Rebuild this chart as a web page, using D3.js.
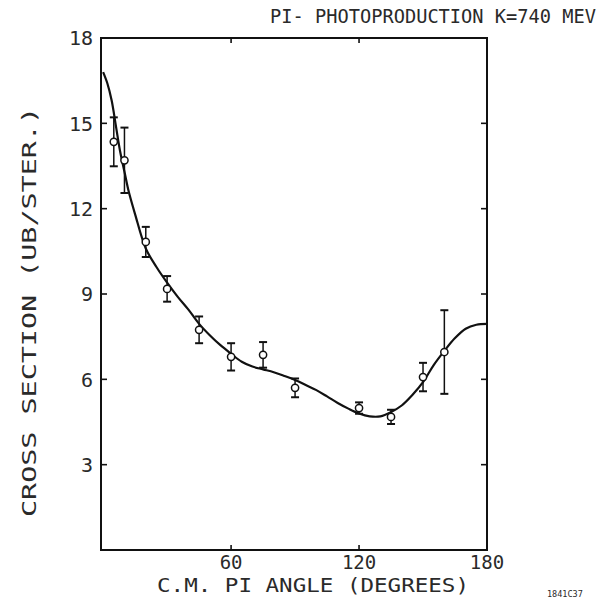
<!DOCTYPE html>
<html>
<head>
<meta charset="utf-8">
<script src="https://cdn.jsdelivr.net/npm/d3@7"></script>
<style>
  html, body { margin: 0; padding: 0; background: #fff; }
  svg { display: block; }
  text { font-family: "DejaVu Sans Mono", monospace; fill: #2a2a2a; }
</style>
</head>
<body>
<svg id="chart" width="607" height="606"></svg>
<script>
// Measured pi- photoproduction cross sections at K = 740 MeV
const angles = [5, 10, 20, 30, 45, 60, 75, 90, 120, 135, 150, 160];
const sigma  = [14.35, 13.7, 10.83, 9.18, 7.74, 6.79, 6.86, 5.70, 4.99, 4.68, 6.08, 6.96];
const errors = [0.86, 1.15, 0.53, 0.45, 0.47, 0.48, 0.45, 0.33, 0.2, 0.25, 0.5, 1.47];

// Fitted curve
const fitAngles = [0, 2, 4, 6, 8, 10, 12, 15, 20, 25, 30, 35, 40, 45, 50, 55, 60, 65, 70, 75, 80, 85,
                   90, 95, 100, 105, 110, 115, 120, 125, 130, 135, 140, 145, 150, 155, 160, 165, 170, 175, 180];
const fitSigma  = [16.8, 16.4, 15.8, 14.9, 14.0, 13.3, 12.6, 11.8, 10.6, 9.95, 9.4, 8.9, 8.45, 7.95, 7.55,
                   7.2, 6.9, 6.62, 6.45, 6.35, 6.25, 6.12, 5.98, 5.8, 5.62, 5.4, 5.17, 4.97, 4.8, 4.7,
                   4.7, 4.85, 5.08, 5.45, 5.9, 6.5, 7.0, 7.45, 7.78, 7.92, 7.95];

const xTicks = [60, 120, 180];
const yTicks = [3, 6, 9, 12, 15, 18];

const svg = d3.select("#chart");
const x = d3.scaleLinear().domain([-1, 180]).range([101, 487]);
const y = d3.scaleLinear().domain([0, 18]).range([550, 38]);
const ink = "#111";

// Frame
const [x0, x1] = x.range();
const [y0, y1] = y.range();
svg.append("rect")
  .attr("x", x0).attr("y", y1)
  .attr("width", x1 - x0).attr("height", y0 - y1)
  .attr("fill", "none").attr("stroke", ink).attr("stroke-width", 2);

// Inward ticks on left and right
const yTickVals = yTicks.filter(v => v < 18);
svg.append("g").selectAll("line").data(yTickVals).join("line")
  .attr("x1", x0).attr("x2", x0 + 6)
  .attr("y1", d => y(d)).attr("y2", d => y(d))
  .attr("stroke", ink).attr("stroke-width", 1.6);
svg.append("g").selectAll("line").data(yTickVals).join("line")
  .attr("x1", x1).attr("x2", x1 - 6)
  .attr("y1", d => y(d)).attr("y2", d => y(d))
  .attr("stroke", ink).attr("stroke-width", 1.6);
// Ticks on bottom and top
svg.append("g").selectAll("line").data(xTicks).join("line")
  .attr("x1", d => x(d)).attr("x2", d => x(d))
  .attr("y1", y0).attr("y2", y0 - 5)
  .attr("stroke", ink).attr("stroke-width", 1.6);
svg.append("g").selectAll("line").data(xTicks.filter(v => v < 180)).join("line")
  .attr("x1", d => x(d)).attr("x2", d => x(d))
  .attr("y1", y1).attr("y2", y1 + 5)
  .attr("stroke", ink).attr("stroke-width", 1.6);

// Tick labels
svg.append("g").selectAll("text").data(yTicks).join("text")
  .attr("x", x0 - 8).attr("y", d => y(d)).attr("dy", "0.36em")
  .attr("text-anchor", "end").attr("font-size", 20)
  .text(d => d);
svg.append("g").selectAll("text").data(xTicks).join("text")
  .attr("x", d => x(d)).attr("y", y0 + 19)
  .attr("text-anchor", "middle").attr("font-size", 19)
  .text(d => d);

// Axis titles
svg.append("text")
  .attr("x", 157).attr("y", 592)
  .attr("font-size", 19)
  .attr("textLength", 312).attr("lengthAdjust", "spacingAndGlyphs")
  .text("C.M. PI ANGLE (DEGREES)");
svg.append("text")
  .attr("transform", "translate(36,517) rotate(-90)")
  .attr("font-size", 20)
  .attr("textLength", 410).attr("lengthAdjust", "spacingAndGlyphs")
  .text("CROSS SECTION (UB/STER.)");

// Title
svg.append("text")
  .attr("x", 270).attr("y", 23)
  .attr("font-size", 19)
  .attr("textLength", 326).attr("lengthAdjust", "spacingAndGlyphs")
  .text("PI- PHOTOPRODUCTION K=740 MEV");

// Plate number
svg.append("text")
  .attr("x", 547).attr("y", 597)
  .attr("font-size", 8.5)
  .text("1841C37");

// Fitted curve
const line = d3.line()
  .x(d => x(d[0])).y(d => y(d[1]))
  .curve(d3.curveCatmullRom.alpha(0.5));
svg.append("path")
  .datum(fitAngles.map((a, i) => [a, fitSigma[i]]))
  .attr("d", line)
  .attr("fill", "none").attr("stroke", ink).attr("stroke-width", 2.2);

// Data points with error bars
const pts = angles.map((a, i) => ({ a, v: sigma[i], e: errors[i] }));
const g = svg.append("g");
g.selectAll("line.bar").data(pts).join("line").attr("class", "bar")
  .attr("x1", d => x(d.a)).attr("x2", d => x(d.a))
  .attr("y1", d => y(d.v + d.e)).attr("y2", d => y(d.v - d.e))
  .attr("stroke", ink).attr("stroke-width", 1.5);
g.selectAll("line.capt").data(pts).join("line").attr("class", "capt")
  .attr("x1", d => x(d.a) - 4).attr("x2", d => x(d.a) + 4)
  .attr("y1", d => y(d.v + d.e)).attr("y2", d => y(d.v + d.e))
  .attr("stroke", ink).attr("stroke-width", 2);
g.selectAll("line.capb").data(pts).join("line").attr("class", "capb")
  .attr("x1", d => x(d.a) - 4).attr("x2", d => x(d.a) + 4)
  .attr("y1", d => y(d.v - d.e)).attr("y2", d => y(d.v - d.e))
  .attr("stroke", ink).attr("stroke-width", 2);
g.selectAll("circle").data(pts).join("circle")
  .attr("cx", d => x(d.a)).attr("cy", d => y(d.v)).attr("r", 3.6)
  .attr("fill", "#fff").attr("stroke", ink).attr("stroke-width", 1.5);
</script>
</body>
</html>
